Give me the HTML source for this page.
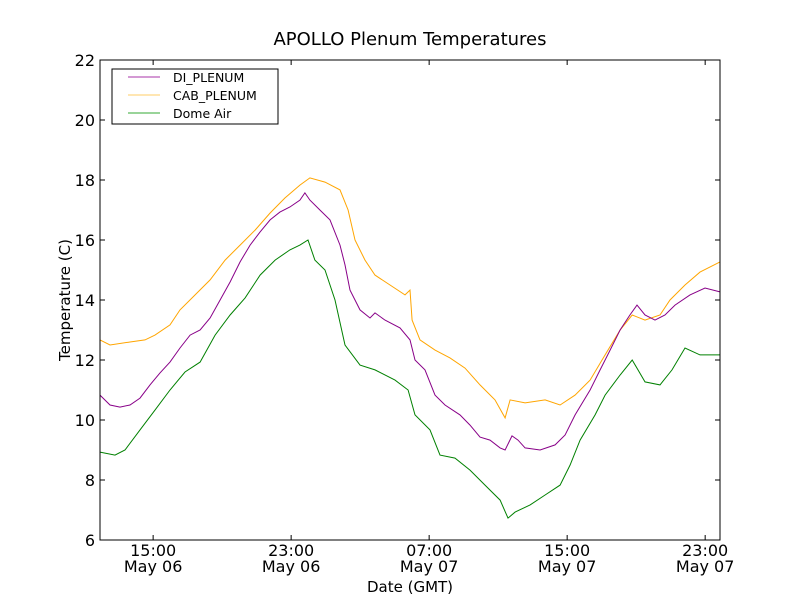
<!DOCTYPE html>
<html><head><meta charset="utf-8"><style>
html,body{margin:0;padding:0;background:#fff;}
svg{display:block;font-family:"DejaVu Sans","Liberation Sans",sans-serif;}
</style></head><body>
<svg id="chart" width="800" height="600" viewBox="0 0 800 600">
<rect x="0" y="0" width="800" height="600" fill="#fff"/>
<text x="410" y="45" font-size="18" text-anchor="middle" fill="#000">APOLLO Plenum Temperatures</text>
<g id="series"></g>
<g id="axes"></g>
<rect x="100" y="60" width="620" height="480" fill="none" stroke="#000" stroke-width="1"/>
<text x="410" y="592" font-size="15" text-anchor="middle">Date (GMT)</text>
<text transform="translate(70,300) rotate(-90)" font-size="15" text-anchor="middle">Temperature (C)</text>
<g>
<rect x="112" y="69" width="166" height="55" fill="#fff" stroke="#000" stroke-width="1"/>
<line x1="128" y1="77" x2="160" y2="77" stroke="#aa33aa"/>
<text x="173" y="82" font-size="12.5">DI_PLENUM</text>
<line x1="128" y1="95" x2="160" y2="95" stroke="#ffcc66"/>
<text x="173" y="100" font-size="12.5">CAB_PLENUM</text>
<line x1="128" y1="113" x2="160" y2="113" stroke="#33aa33"/>
<text x="173" y="118" font-size="12.5">Dome Air</text>
</g>
</svg>
<script>
const diTimes=[11.92,12.50,13.08,13.66,14.24,14.82,15.40,15.98,16.56,17.14,17.72,18.30,18.88,19.46,20.04,20.62,21.20,21.78,22.35,22.93,23.51,23.80,24.09,24.67,25.25,25.83,26.12,26.41,26.99,27.57,27.86,28.44,29.31,29.89,30.18,30.76,31.34,31.92,32.79,33.37,33.95,34.53,35.11,35.40,35.80,36.15,36.56,37.43,38.30,38.88,39.46,40.33,40.91,41.49,42.07,42.64,43.05,43.51,44.09,44.67,45.25,46.12,46.99,47.86];
const diValues=[10.83,10.5,10.43,10.5,10.73,11.17,11.57,11.93,12.4,12.83,13,13.4,14,14.6,15.27,15.83,16.27,16.67,16.93,17.1,17.33,17.57,17.33,17,16.67,15.83,15.17,14.33,13.67,13.4,13.57,13.33,13.07,12.67,12,11.67,10.83,10.5,10.17,9.83,9.43,9.33,9.07,9,9.47,9.33,9.07,9,9.17,9.5,10.17,11,11.67,12.33,13,13.5,13.83,13.5,13.33,13.5,13.83,14.17,14.4,14.27];
const cabTimes=[11.92,12.50,13.66,14.53,15.11,15.98,16.56,17.43,18.30,19.17,20.04,20.91,21.78,22.64,23.51,24.09,24.96,25.83,26.30,26.70,27.28,27.86,28.73,29.60,29.89,30.01,30.47,31.34,32.21,33.08,33.95,34.82,35.40,35.69,36.56,37.72,38.59,39.46,40.33,41.20,42.07,42.77,43.51,44.38,44.96,45.83,46.70,47.86];
const cabValues=[12.67,12.5,12.6,12.67,12.83,13.17,13.67,14.17,14.67,15.33,15.83,16.33,16.9,17.4,17.83,18.07,17.93,17.67,17,16,15.33,14.83,14.5,14.17,14.33,13.33,12.67,12.33,12.07,11.73,11.17,10.67,10.07,10.67,10.57,10.67,10.5,10.83,11.33,12.17,13,13.5,13.33,13.5,14,14.5,14.93,15.27];
const domeTimes=[11.92,12.79,13.37,14.24,15.11,15.98,16.85,17.72,18.59,19.46,20.33,21.20,22.07,22.93,23.51,23.98,24.38,24.96,25.54,26.12,26.99,27.86,29.02,29.78,30.18,31.05,31.63,32.50,33.37,34.24,35.11,35.57,35.98,36.85,37.72,38.59,39.17,39.75,40.62,41.20,42.07,42.77,43.51,44.38,45.08,45.83,46.70,47.86];
const domeValues=[8.93,8.83,9,9.67,10.33,11,11.6,11.93,12.83,13.5,14.07,14.83,15.33,15.67,15.83,16,15.33,15,14,12.5,11.83,11.67,11.33,11,10.17,9.67,8.83,8.73,8.33,7.83,7.33,6.73,6.93,7.17,7.5,7.83,8.5,9.33,10.17,10.83,11.5,12,11.27,11.17,11.67,12.4,12.17,12.17];
const yTicks=[6,8,10,12,14,16,18,20,22];
const xTickHours=[15,23,31,39,47];
const xTickTimes=["15:00","23:00","07:00","15:00","23:00"];
const xTickDates=["May 06","May 06","May 07","May 07","May 07"];

const NS="http://www.w3.org/2000/svg";
const X0=100,X1=720,Y0=540,Y1=60,TMIN=11.92,TMAX=47.86,VMIN=6,VMAX=22;
function xs(t){return X0+(t-TMIN)/(TMAX-TMIN)*(X1-X0);}
function ys(v){return Y0-(v-VMIN)/(VMAX-VMIN)*(Y0-Y1);}
const sg=document.getElementById('series');
function drawLine(times,vals,color,name){
  const p=document.createElementNS(NS,'polyline');
  p.setAttribute('points',times.map((t,i)=>xs(t).toFixed(1)+','+ys(vals[i]).toFixed(1)).join(' '));
  p.setAttribute('fill','none');p.setAttribute('stroke',color);p.setAttribute('stroke-width','1');
  
  
  sg.appendChild(p);
}
drawLine(cabTimes,cabValues,'#ffa500','line-cab-plenum');
drawLine(diTimes,diValues,'#880088','line-di-plenum');
drawLine(domeTimes,domeValues,'#008000','line-dome-air');
const ag=document.getElementById('axes');
yTicks.forEach(v=>{
  const y=ys(v);
  [[X0,X0+5],[X1,X1-5]].forEach(([a,b])=>{
    const l=document.createElementNS(NS,'line');
    l.setAttribute('x1',a);l.setAttribute('x2',b);l.setAttribute('y1',y);l.setAttribute('y2',y);l.setAttribute('stroke','#000');
    
    
    ag.appendChild(l);
  });
  const tx=document.createElementNS(NS,'text');
  tx.setAttribute('x',X0-5);tx.setAttribute('y',y+6);tx.setAttribute('text-anchor','end');tx.setAttribute('font-size','16');
  tx.textContent=v;
  
  
  ag.appendChild(tx);
});
xTickHours.forEach((h,i)=>{
  const x=xs(h);
  [[Y0,Y0-5],[Y1,Y1+5]].forEach(([a,b])=>{
    const l=document.createElementNS(NS,'line');
    l.setAttribute('x1',x);l.setAttribute('x2',x);l.setAttribute('y1',a);l.setAttribute('y2',b);l.setAttribute('stroke','#000');
    
    
    ag.appendChild(l);
  });
  [[xTickTimes[i],556],[xTickDates[i],572]].forEach(([s,y])=>{
    const tx=document.createElementNS(NS,'text');
    tx.setAttribute('x',x);tx.setAttribute('y',y);tx.setAttribute('text-anchor','middle');tx.setAttribute('font-size','16');
    tx.textContent=s;
    
    
    ag.appendChild(tx);
  });
});
</script>
</body></html>
